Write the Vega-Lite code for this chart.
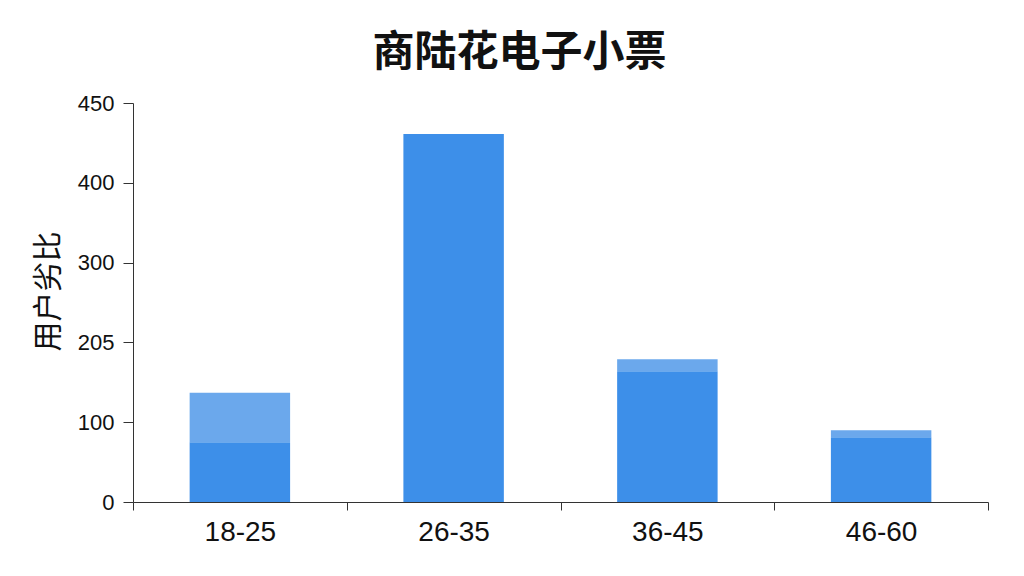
{
  "$schema": "https://vega.github.io/schema/vega-lite/v6.json",
  "autosize": {"type": "none"},
  "width": 855,
  "height": 399,
  "padding": {"left": 133, "top": 103, "right": 36, "bottom": 74},
  "background": "white",
  "title": {
    "text": "商陆花电子小票",
    "fontSize": 42,
    "fontWeight": "bold",
    "font": "Noto Sans CJK SC",
    "color": "#111111",
    "anchor": "middle",
    "dx": -41,
    "offset": 17
  },
  "data": {
    "values": [
      {"age": "18-25", "part": "主体", "value": 75},
      {"age": "18-25", "part": "顶部", "value": 62},
      {"age": "26-35", "part": "主体", "value": 461},
      {"age": "26-35", "part": "顶部", "value": 0},
      {"age": "36-45", "part": "主体", "value": 164},
      {"age": "36-45", "part": "顶部", "value": 15},
      {"age": "46-60", "part": "主体", "value": 81},
      {"age": "46-60", "part": "顶部", "value": 9}
    ]
  },
  "mark": {"type": "bar", "width": {"band": 0.47}},
  "encoding": {
    "x": {
      "field": "age",
      "type": "nominal",
      "title": null,
      "scale": {"paddingInner": 0, "paddingOuter": 0},
      "axis": {
        "labelAngle": 0,
        "labelFontSize": 28,
        "labelFont": "Liberation Sans",
        "labelColor": "#111111",
        "labelPadding": 8,
        "tickBand": "extent",
        "tickSize": 8,
        "tickColor": "#333333",
        "domainColor": "#333333",
        "grid": false
      }
    },
    "y": {
      "field": "value",
      "type": "quantitative",
      "stack": "zero",
      "title": "用户劣比",
      "scale": {"domain": [0, 500], "nice": false},
      "axis": {
        "values": [0, 100, 200, 300, 400, 500],
        "labelExpr": "datum.value == 200 ? '205' : datum.value == 500 ? '450' : datum.label",
        "labelFontSize": 22,
        "labelFont": "Liberation Sans",
        "labelColor": "#111111",
        "labelPadding": 9,
        "tickSize": 10,
        "tickColor": "#333333",
        "domainColor": "#333333",
        "grid": false,
        "titleFontSize": 30,
        "titleFont": "Noto Sans CJK SC",
        "titleFontWeight": "normal",
        "titleColor": "#111111",
        "titlePadding": 14,
        "titleY": 188
      }
    },
    "color": {
      "field": "part",
      "type": "nominal",
      "scale": {"domain": ["主体", "顶部"], "range": ["#3d8fe9", "#6ba8ec"]},
      "legend": null
    },
    "order": {"field": "part", "sort": "ascending"}
  },
  "config": {"view": {"stroke": null}}
}
